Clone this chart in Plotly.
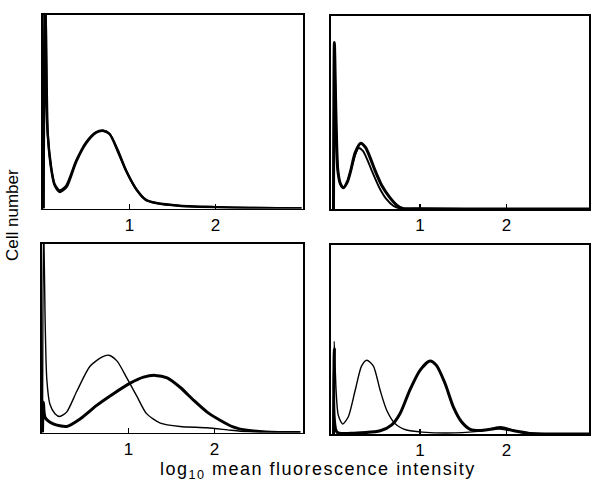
import plotly.graph_objects as go

# ---------------- data ----------------
# Panel A (top-left): two nearly identical curves
a1_x = [0.0, 0.015, 0.03, 0.05, 0.09, 0.128, 0.186, 0.264, 0.38, 0.496, 0.61, 0.69, 0.767, 0.864, 0.96, 1.078, 1.19, 1.31, 1.58, 2.0, 2.4, 3.0]
a1_y = [0.0, 1.15, 0.9, 0.385, 0.21, 0.127, 0.093, 0.118, 0.247, 0.342, 0.393, 0.402, 0.385, 0.30, 0.196, 0.10, 0.045, 0.029, 0.015, 0.007, 0.003, 0.0]
a2_x = [0.0, 0.02, 0.035, 0.05, 0.09, 0.13, 0.19, 0.27, 0.38, 0.50, 0.61, 0.69, 0.77, 0.86, 0.96, 1.08, 1.19, 1.31, 1.58, 2.0, 2.4, 3.0]
a2_y = [0.0, 1.15, 0.52, 0.37, 0.20, 0.118, 0.085, 0.112, 0.24, 0.338, 0.39, 0.40, 0.383, 0.298, 0.194, 0.098, 0.044, 0.028, 0.014, 0.007, 0.003, 0.0]

# Panel B (top-right): thick and thin curves
b_thick_x = [0.0, 0.01, 0.03, 0.05, 0.08, 0.115, 0.16, 0.2, 0.25, 0.315, 0.37, 0.43, 0.48, 0.56, 0.65, 0.73, 0.8, 1.0, 2.0, 3.0]
b_thick_y = [0.0, 0.86, 0.45, 0.2, 0.13, 0.11, 0.14, 0.2, 0.29, 0.34, 0.318, 0.258, 0.2, 0.12, 0.06, 0.02, 0.003, 0.001, 0.0, 0.0]
b_thin_x = [0.0, 0.01, 0.03, 0.05, 0.08, 0.115, 0.16, 0.2, 0.25, 0.29, 0.34, 0.40, 0.45, 0.53, 0.61, 0.69, 0.77, 1.0, 2.0, 3.0]
b_thin_y = [0.0, 0.82, 0.43, 0.2, 0.13, 0.11, 0.14, 0.2, 0.28, 0.315, 0.3, 0.245, 0.19, 0.11, 0.052, 0.017, 0.003, 0.001, 0.0, 0.0]

# Panel C (bottom-left): thin and thick curves
c_thin_x = [0.0, 0.012, 0.03, 0.05, 0.086, 0.145, 0.2, 0.28, 0.40, 0.55, 0.69, 0.77, 0.865, 0.98, 1.10, 1.21, 1.37, 1.60, 1.91, 2.15, 2.3, 2.6, 3.0]
c_thin_y = [0.0, 1.15, 0.6, 0.28, 0.15, 0.10, 0.085, 0.108, 0.22, 0.35, 0.40, 0.41, 0.38, 0.29, 0.19, 0.10, 0.05, 0.032, 0.025, 0.014, 0.007, 0.002, 0.0]
c_thick_x = [0.0, 0.01, 0.03, 0.125, 0.28, 0.44, 0.63, 0.825, 1.02, 1.175, 1.31, 1.45, 1.60, 1.76, 1.915, 2.07, 2.225, 2.30, 2.6, 3.0]
c_thick_y = [0.0, 0.16, 0.08, 0.046, 0.032, 0.073, 0.144, 0.206, 0.262, 0.294, 0.303, 0.29, 0.24, 0.17, 0.108, 0.064, 0.028, 0.018, 0.003, 0.0]

# Panel D (bottom-right): thin and thick curves
d_thin_x = [0.0, 0.008, 0.03, 0.055, 0.106, 0.17, 0.25, 0.325, 0.385, 0.46, 0.54, 0.615, 0.71, 0.845, 1.03, 1.4, 1.7, 1.93, 2.15, 2.4, 3.0]
d_thin_y = [0.0, 0.49, 0.23, 0.10, 0.053, 0.09, 0.23, 0.36, 0.39, 0.36, 0.23, 0.126, 0.056, 0.021, 0.01, 0.006, 0.015, 0.038, 0.012, 0.002, 0.0]
d_thick_x = [0.0, 0.01, 0.04, 0.2, 0.54, 0.67, 0.77, 0.88, 1.0, 1.115, 1.19, 1.29, 1.385, 1.48, 1.58, 1.69, 1.925, 2.12, 2.27, 2.6, 3.0]
d_thick_y = [0.0, 0.45, 0.01, 0.004, 0.017, 0.047, 0.109, 0.23, 0.337, 0.386, 0.363, 0.267, 0.144, 0.065, 0.025, 0.018, 0.03, 0.014, 0.003, 0.0, 0.0]

tick_vals = [1, 2]
tick_text = ["1", "2"]

# ---------------- figure ----------------
W, H = 592, 482
FONT = "Liberation Sans, Arial, Helvetica, sans-serif"
fig = go.Figure()

def px_x(p):
    return p / W

def px_y(p):
    return 1 - p / H

panels = [
    # (xaxis id, yaxis id, x domain px, y domain px, x range)
    ("x", "y", (42.5, 303), (14.5, 208.5), (-0.012, 3.017)),
    ("x2", "y2", (331, 589), (15.5, 209), (-0.029, 2.954)),
    ("x3", "y3", (41.5, 303), (244, 432.5), (-0.012, 3.03)),
    ("x4", "y4", (331, 589), (245, 434), (-0.029, 2.954)),
]

curves = [
    (0, a1_x, a1_y, 2.3),
    (0, a2_x, a2_y, 2.3),
    (1, b_thin_x, b_thin_y, 1.9),
    (1, b_thick_x, b_thick_y, 3.0),
    (2, c_thin_x, c_thin_y, 1.4),
    (2, c_thick_x, c_thick_y, 3.0),
    (3, d_thin_x, d_thin_y, 1.4),
    (3, d_thick_x, d_thick_y, 3.0),
]

for idx, xs, ys, w in curves:
    xa, ya = panels[idx][0], panels[idx][1]
    fig.add_trace(go.Scatter(
        x=xs, y=ys, mode="lines", xaxis=xa, yaxis=ya,
        line=dict(color="black", width=w, shape="spline", smoothing=0.7),
        showlegend=False, hoverinfo="skip",
    ))

layout_axes = {}
for i, (xa, ya, xd, yd, xr) in enumerate(panels):
    xkey = "xaxis" if xa == "x" else "xaxis" + xa[1:]
    ykey = "yaxis" if ya == "y" else "yaxis" + ya[1:]
    layout_axes[xkey] = dict(
        domain=[px_x(xd[0]), px_x(xd[1])], range=list(xr), anchor=ya,
        showgrid=False, zeroline=False, showline=True, mirror=True,
        linecolor="black", linewidth=1.6,
        tickmode="array", tickvals=tick_vals, ticktext=tick_text,
        ticks="inside", ticklen=5, tickwidth=1.5, tickcolor="black",
        tickfont=dict(family=FONT, size=17, color="black"),
    )
    layout_axes[ykey] = dict(
        domain=[px_y(yd[1]), px_y(yd[0])], range=[0, 1], anchor=xa,
        showgrid=False, zeroline=False, showline=True, mirror=True,
        linecolor="black", linewidth=1.6, showticklabels=False, ticks="",
    )

fig.update_layout(
    width=W, height=H,
    margin=dict(l=0, r=0, t=0, b=0),
    paper_bgcolor="white", plot_bgcolor="white",
    showlegend=False,
    **layout_axes,
)

fig.add_annotation(
    x=px_x(13), y=px_y(215), xref="paper", yref="paper",
    text="Cell number", textangle=-90, showarrow=False,
    font=dict(family=FONT, size=17, color="black"),
    xanchor="center", yanchor="middle",
)
fig.add_annotation(
    x=px_x(318), y=px_y(470.5), xref="paper", yref="paper",
    text='<span style="letter-spacing:1.5px">log<sub>10</sub> mean fluorescence intensity</span>',
    showarrow=False,
    font=dict(family=FONT, size=18, color="black"),
    xanchor="center", yanchor="middle",
)

fig.write_html(
    "out.html",
    config={"displayModeBar": False, "staticPlot": True},
    post_script="document.body.style.margin='0';document.body.style.overflow='hidden';",
)
